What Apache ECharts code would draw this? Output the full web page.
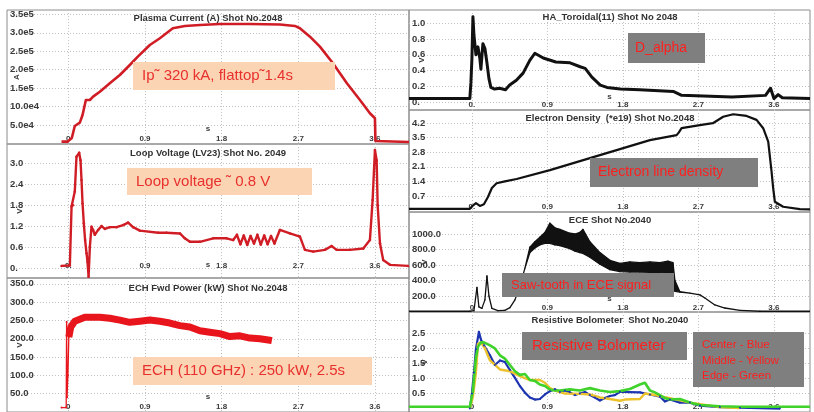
<!DOCTYPE html>
<html><head><meta charset="utf-8">
<script src="https://cdn.jsdelivr.net/npm/echarts@6/dist/echarts.min.js"></script>
<style>html,body{margin:0;padding:0;background:#fff}#c{width:814px;height:412px}</style>
</head><body><div id="c"></div>
<script>
// ---------------- data ----------------
const xTicks = [0, 0.9, 1.8, 2.7, 3.6];
const xTickLabels = ['0', '0.9', '1.8', '2.7', '3.6'];
const xTickLabelsDot = ['0.', '0.9', '1.8', '2.7', '3.6'];

// Plasma current (A)
const ipTicks = [50000, 100000, 150000, 200000, 250000, 300000, 350000];
const ipTickLabels = ['5.0e4', '10.0e4', '1.5e5', '2.0e5', '2.5e5', '3.0e5', '3.5e5'];
const ipT = [-0.08, -0.01, 0.041, 0.076, 0.135, 0.167, 0.206, 0.253, 0.291, 0.37, 0.487, 0.605, 0.722, 0.816, 0.957, 1.075, 1.227, 1.368, 1.545, 1.779, 2.131, 2.484, 2.66, 2.719, 2.837, 2.954, 3.107, 3.271, 3.424, 3.541, 3.6, 3.606, 4.0];
const ipA = [5000, 5000, 14900, 47500, 56400, 77300, 118000, 118000, 127000, 140500, 163300, 185800, 212900, 235500, 267200, 285400, 312500, 318800, 321500, 324200, 324200, 322800, 318800, 312500, 289700, 262600, 217600, 163300, 118000, 81900, 68400, 6800, 4000];

// Loop voltage (V)
const lvTicks = [0, 0.6, 1.2, 1.8, 2.4, 3.0];
const lvTickLabels = ['0.', '0.6', '1.2', '1.8', '2.4', '3.0'];
const lvT = [-0.08, 0.018, 0.038, 0.056, 0.076, 0.096, 0.127, 0.143, 0.155, 0.167, 0.182, 0.197, 0.214, 0.225, 0.238, 0.253, 0.272, 0.291, 0.311, 0.35, 0.39, 0.429, 0.487, 0.566, 0.644, 0.702, 0.761, 0.84, 1.055, 1.153, 1.31, 1.368, 1.427, 1.545, 1.701, 1.858, 1.936, 1.98, 2.02, 2.06, 2.10, 2.14, 2.18, 2.22, 2.26, 2.30, 2.34, 2.38, 2.42, 2.484, 2.602, 2.719, 2.778, 2.875, 3.013, 3.091, 3.15, 3.306, 3.463, 3.541, 3.573, 3.6, 3.62, 3.632, 3.659, 3.697, 3.776, 3.99];
const lvV = [0.06, 0.07, 1.76, 1.8, 2.19, 3.19, 3.3, 3.09, 2.52, 1.85, 1.28, 0.8, 0.42, 0.18, -0.25, 0.61, 1.18, 1.09, 0.95, 1.09, 1.2, 1.12, 1.17, 1.17, 1.23, 1.3, 1.17, 1.07, 1.01, 1.01, 0.99, 0.85, 0.75, 0.75, 0.85, 0.85, 0.8, 0.95, 0.68, 0.93, 0.66, 0.92, 0.7, 0.95, 0.67, 0.93, 0.68, 0.92, 0.7, 1.09, 0.99, 0.9, 0.52, 0.47, 0.52, 0.63, 0.52, 0.52, 0.56, 0.8, 1.95, 3.38, 3.09, 1.8, 0.71, 0.23, 0.09, 0.06];

// ECH forward power (kW)
const echTicks = [50, 100, 150, 200, 250, 300, 350];
const echTickLabels = ['50.0', '100.0', '150.0', '200.0', '250.0', '300.0', '350.0'];
const echSpikeT = [-0.08, -0.025, -0.02, -0.015, -0.005, 0.006];
const echSpikeV = [12, 12, 246, 40, 100, 205];
const echT = [0.006, 0.029, 0.076, 0.194, 0.37, 0.487, 0.605, 0.722, 0.84, 0.957, 1.075, 1.192, 1.31, 1.427, 1.545, 1.662, 1.78, 1.897, 2.015, 2.132, 2.249, 2.367, 2.39];
const echV = [205, 232, 248, 259, 259, 256, 251, 245, 248, 251, 248, 243, 236, 232, 222, 218, 214, 206, 208, 202, 200, 196, 195];

// D_alpha
const daTicks = [0, 0.2, 0.4, 0.6, 0.8, 1.0];
const daTickLabels = ['0.', '0.2', '0.4', '0.6', '0.8', '1.0'];
const daT = [-0.75, -0.025, -0.012, 0.0, 0.012, 0.024, 0.048, 0.072, 0.095, 0.107, 0.131, 0.155, 0.179, 0.203, 0.226, 0.27, 0.33, 0.40, 0.45, 0.53, 0.61, 0.69, 0.75, 0.85, 1.0, 1.17, 1.29, 1.35, 1.43, 1.53, 1.61, 1.77, 2.0, 2.4, 2.5, 3.1, 3.5, 3.56, 3.6, 3.65, 3.7, 4.03];
const daV = [0.05, 0.05, 0.25, 0.55, 1.08, 0.85, 0.6, 0.7, 0.55, 0.42, 0.74, 0.68, 0.5, 0.3, 0.19, 0.17, 0.18, 0.16, 0.22, 0.28, 0.37, 0.53, 0.62, 0.56, 0.51, 0.5, 0.45, 0.43, 0.32, 0.22, 0.19, 0.17, 0.16, 0.14, 0.09, 0.07, 0.09, 0.18, 0.05, 0.1, 0.06, 0.05];

// Electron density (*e19)
const edTicks = [0.7, 1.4, 2.1, 2.8, 3.5, 4.2];
const edTickLabels = ['0.7', '1.4', '2.1', '2.8', '3.5', '4.2'];
const edT = [-0.75, -0.024, 0, 0.048, 0.095, 0.143, 0.191, 0.238, 0.294, 0.393, 0.533, 0.93, 1.327, 1.725, 2.122, 2.44, 2.467, 2.499, 2.718, 2.872, 2.995, 3.115, 3.274, 3.393, 3.472, 3.532, 3.572, 3.591, 3.611, 3.71, 3.909, 4.03];
const edV = [0.08, 0.08, 0.2, 0.35, 0.22, 0.3, 0.65, 1.08, 1.31, 1.4, 1.51, 1.94, 2.42, 2.9, 3.38, 3.62, 3.75, 3.95, 4.1, 4.19, 4.5, 4.62, 4.54, 4.35, 3.95, 3.31, 1.86, 1.07, 0.42, 0.18, 0.07, 0.05];

// ECE (lower / upper envelope of the saw-tooth band)
const eceTicks = [200, 400, 600, 800, 1000];
const eceTickLabels = ['200.0', '400.0', '600.0', '800.0', '1000.0'];
const eceT = [-0.751, -0.024, 0.024, 0.06, 0.083, 0.119, 0.155, 0.179, 0.203, 0.238, 0.31, 0.393, 0.453, 0.513, 0.572, 0.632, 0.691, 0.751, 0.81, 0.87, 0.93, 0.989, 1.049, 1.168, 1.228, 1.287, 1.323, 1.406, 1.526, 1.645, 1.764, 1.883, 2.002, 2.122, 2.241, 2.336, 2.396, 2.42, 2.479, 2.598, 2.718, 2.777, 2.896, 3.015, 3.194, 3.433, 4.029];
const eceLo = [3, 3, 10, 310, 60, 40, 150, 460, 200, 40, 10, 15, 50, 150, 330, 560, 760, 820, 860, 880, 880, 860, 850, 810, 780, 760, 750, 700, 610, 540, 515, 510, 510, 505, 500, 495, 490, 260, 250, 238, 215, 175, 85, 45, 15, 3, 3];
const eceHi = [3, 3, 10, 310, 60, 40, 150, 460, 200, 40, 10, 15, 50, 150, 330, 560, 830, 900, 960, 1020, 1140, 1080, 1060, 1010, 1000, 1020, 1060, 900, 760, 660, 620, 640, 630, 640, 630, 650, 630, 400, 255, 238, 215, 175, 85, 45, 15, 3, 3];

// Resistive bolometer
const boTicks = [0.5, 1.0, 1.5, 2.0, 2.5];
const boTickLabels = ['0.5', '1.0', '1.5', '2.0', '2.5'];
const boBlueT = [-0.024, 0, 0.024, 0.048, 0.083, 0.107, 0.143, 0.215, 0.274, 0.334, 0.393, 0.453, 0.513, 0.572, 0.632, 0.691, 0.751, 0.81, 0.87, 0.93, 0.989, 1.049, 1.108, 1.168, 1.228, 1.287, 1.347, 1.406, 1.466, 1.526, 1.585, 1.645, 1.704, 1.764, 1.883, 2.002, 2.122, 2.241, 2.3, 2.36, 2.479, 2.598, 2.718, 2.956, 3.194, 3.671];
const boBlueV = [0, 0.5, 1.2, 1.98, 2.55, 2.3, 2.1, 1.77, 1.45, 1.6, 1.55, 1.28, 1.02, 0.75, 0.53, 0.37, 0.3, 0.32, 0.47, 0.58, 0.64, 0.55, 0.6, 0.54, 0.45, 0.5, 0.55, 0.45, 0.37, 0.27, 0.35, 0.42, 0.45, 0.56, 0.55, 0.54, 0.47, 0.4, 0.24, 0.3, 0.2, 0.2, 0.1, 0.05, 0.03, 0.0];
const boYellowT = [-0.024, 0.012, 0.048, 0.072, 0.107, 0.155, 0.215, 0.274, 0.334, 0.453, 0.572, 0.691, 0.81, 0.87, 0.93, 0.989, 1.108, 1.287, 1.406, 1.526, 1.645, 1.764, 1.824, 2.002, 2.062, 2.181, 2.36, 2.598, 2.718, 2.956, 3.194];
const boYellowV = [0, 0.4, 1.2, 2.15, 2.2, 2.0, 1.6, 1.45, 1.3, 1.24, 1.08, 0.95, 0.95, 0.86, 0.68, 0.6, 0.5, 0.49, 0.47, 0.37, 0.32, 0.26, 0.3, 0.32, 0.5, 0.45, 0.35, 0.2, 0.15, 0.05, 0.02];
const boGreenT = [-0.751, -0.024, 0.012, 0.048, 0.072, 0.107, 0.143, 0.215, 0.274, 0.334, 0.393, 0.453, 0.513, 0.572, 0.632, 0.691, 0.751, 0.81, 0.87, 0.93, 0.989, 1.049, 1.168, 1.287, 1.406, 1.526, 1.645, 1.764, 1.883, 2.002, 2.062, 2.122, 2.181, 2.241, 2.3, 2.36, 2.479, 2.598, 2.718, 2.956, 3.194, 3.433, 4.029];
const boGreenV = [0.06, 0.06, 0.6, 1.7, 2.05, 2.2, 2.2, 2.1, 2.0, 1.77, 1.66, 1.45, 1.24, 1.12, 1.15, 0.95, 0.92, 0.8, 0.75, 0.63, 0.6, 0.6, 0.64, 0.6, 0.68, 0.6, 0.55, 0.58, 0.65, 0.8, 0.86, 0.6, 0.54, 0.45, 0.35, 0.3, 0.32, 0.2, 0.12, 0.08, 0.06, 0.06, 0.06];

// ---------------- chart ----------------
const FONT = '"Liberation Sans", Arial, sans-serif';
function zip(a, b) { const n = Math.min(a.length, b.length), r = []; for (let i = 0; i < n; i++) r.push([a[i], b[i]]); return r; }
function lab(ticks, labels) {
  return function (v) { let k = 0, d = Infinity; ticks.forEach((t, i) => { const e = Math.abs(t - v); if (e < d) { d = e; k = i; } }); return labels[k]; };
}
const LX = [-0.72, 4.0], RX = [-0.75, 4.03];
const panels = [
  { g: [7, 10, 402, 134], x: LX, y: [-1400, 362000], yt: ipTicks, yl: ipTickLabels, xl: xTickLabels, lm: 5, yn: 'A', yg: -10, xn: 's', sg: -15, title: 'Plasma Current (A) Shot No.2048', tx: 208, ty: 18 },
  { g: [7, 144, 402, 134], x: LX, y: [-0.287, 3.553], yt: lvTicks, yl: lvTickLabels, xl: xTickLabelsDot, lm: 12, yn: 'V', yg: -13, xn: 's', sg: -13, title: 'Loop Voltage (LV23) Shot No. 2049', tx: 208, ty: 153 },
  { g: [7, 278, 402, 137], x: LX, y: [0, 366], yt: echTicks, yl: echTickLabels, xl: xTickLabels, lm: 5, yn: 'V', yg: -13, xn: 's', sg: -15, title: 'ECH Fwd Power (kW) Shot No.2048', tx: 208, ty: 288 },
  { g: [409, 10, 401, 100], x: RX, y: [-0.094, 1.164], yt: daTicks, yl: daTickLabels, xl: xTickLabelsDot, lm: 5, yn: 'V', yg: -13, xn: 's', sg: -13, title: 'HA_Toroidal(11) Shot No 2048', tx: 610, ty: 17 },
  { g: [409, 110, 401, 102], x: RX, y: [-0.072, 4.824], yt: edTicks, yl: edTickLabels, xl: xTickLabelsDot, lm: 5, yn: '', yg: -13, xn: '', sg: -13, title: 'Electron Density  (*e19) Shot No.2048', tx: 610, ty: 118 },
  { g: [409, 212, 401, 100], x: RX, y: [-6.5, 1284], yt: eceTicks, yl: eceTickLabels, xl: xTickLabels, lm: 4, yn: 'V', yg: -16, xn: 's', sg: -13, title: 'ECE Shot No.2040', tx: 610, ty: 220 },
  { g: [409, 312, 401, 103], x: RX, y: [-0.113, 3.21], yt: boTicks, yl: boTickLabels, xl: xTickLabels, lm: 5, yn: 'V', yg: -16, xn: '', sg: -13, title: 'Resistive Bolometer  Shot No.2040', tx: 610, ty: 320 }
];
const gridLine = { show: true, lineStyle: { color: '#c2c2c2', width: 1, type: [1, 2] } };
const xText = { fontSize: 8, fontWeight: 'bold', color: '#3a3a3a', fontFamily: FONT };
const yText = { fontSize: 9.5, fontWeight: 'bold', color: '#3a3a3a', fontFamily: FONT };

const grids = panels.map(p => ({ left: p.g[0], top: p.g[1], width: p.g[2], height: p.g[3], show: true, borderColor: '#8c8c8c', borderWidth: 1, backgroundColor: 'transparent', containLabel: false }));
const xAxes = panels.map((p, i) => ({
  gridIndex: i, type: 'value', min: p.x[0], max: p.x[1],
  axisLine: { show: false, onZero: false }, axisTick: { show: false, customValues: xTicks },
  axisLabel: Object.assign({ inside: true, customValues: xTicks, formatter: lab(xTicks, p.xl), verticalAlign: 'middle', margin: p.lm }, xText),
  splitLine: gridLine,
  name: p.xn, nameLocation: 'middle', nameGap: p.sg, nameMoveOverlap: false,
  nameTextStyle: Object.assign({ verticalAlign: 'middle', align: 'center' }, xText)
}));
const yAxes = panels.map((p, i) => ({
  gridIndex: i, type: 'value', min: p.y[0], max: p.y[1],
  axisLine: { show: false, onZero: false }, axisTick: { show: false, customValues: p.yt },
  axisLabel: Object.assign({ inside: true, customValues: p.yt, formatter: lab(p.yt, p.yl), align: 'left', verticalAlign: 'middle', margin: 3 }, yText),
  splitLine: gridLine,
  name: p.yn, nameLocation: 'middle', nameRotate: 90, nameGap: p.yg, nameMoveOverlap: false,
  nameTextStyle: Object.assign({ verticalAlign: 'middle', align: 'center' }, xText)
}));

function line(i, data, color, width, extra) {
  return Object.assign({ type: 'line', xAxisIndex: i, yAxisIndex: i, data: data, showSymbol: false, symbol: 'none', lineStyle: { color: color, width: width, join: 'round' }, itemStyle: { color: color }, z: 3 }, extra || {});
}
// ECE band: one quad per pair of neighbouring samples, lower and upper envelope
const eceSegs = [];
for (let k = 0; k + 1 < eceT.length; k++) eceSegs.push([eceT[k], eceLo[k], eceHi[k], eceT[k + 1], eceLo[k + 1], eceHi[k + 1]]);

const RED = '#d01d25';
const series = [
  line(0, zip(ipT, ipA), RED, 2.6),
  line(1, zip(lvT, lvV), RED, 2.4, { showSymbol: true, symbol: 'circle', symbolSize: 2.5 }),
  line(2, zip(echSpikeT, echSpikeV), '#e8161c', 1.3, { showSymbol: true, symbol: 'circle', symbolSize: 2 }),
  line(2, zip(echT, echV), '#e8161c', 7),
  line(3, zip(daT, daV), '#111', 3),
  line(4, zip(edT, edV), '#111', 2.2),
  {
    type: 'custom', xAxisIndex: 5, yAxisIndex: 5, data: eceSegs, clip: true, z: 3,
    encode: { x: [0, 3], y: [1, 2, 4, 5] },
    renderItem: function (params, api) {
      const a = api.coord([api.value(0), api.value(1)]);
      const b = api.coord([api.value(3), api.value(4)]);
      const c = api.coord([api.value(3), api.value(5)]);
      const d = api.coord([api.value(0), api.value(2)]);
      return { type: 'polygon', shape: { points: [a, b, c, d] }, style: { fill: '#111', stroke: '#111', lineWidth: 1.3, lineJoin: 'round' } };
    }
  },
  line(6, zip(boBlueT, boBlueV), '#1d35b0', 2.2, { showSymbol: true, symbol: 'circle', symbolSize: 2 }),
  line(6, zip(boYellowT, boYellowV), '#ecc22c', 2.4),
  line(6, zip(boGreenT, boGreenV), '#3fd22a', 2.6)
];

function box(x, y, w, h, fill) { return { type: 'rect', shape: { x: x, y: y, width: w, height: h }, style: { fill: fill }, z: 100 }; }
function txt(x, y, s, size, color, align, weight) { return { type: 'text', x: x, y: y, z: 101, style: { text: s, fill: color, font: (weight || 'normal') + ' ' + size + 'px ' + FONT, align: align || 'left', verticalAlign: 'middle' } }; }
const PEACH = '#fbd4b4', GRAY = '#7f7f7f', ARED = '#e8302c', GRED = '#ff1f1f';
const graphics = [];
panels.forEach(p => graphics.push(txt(p.tx, p.ty, p.title, 9.5, '#333', 'center', 'bold')));
graphics.push(box(133, 62, 202, 28, PEACH), txt(142, 76, 'Ip˜ 320 kA, flattop˜1.4s', 15, ARED));
graphics.push(box(127, 168, 185, 27, PEACH), txt(136, 182, 'Loop voltage ˜ 0.8 V', 15, ARED));
graphics.push(box(133, 357, 239, 28, PEACH), txt(142, 371, 'ECH (110 GHz) : 250 kW, 2.5s', 15, ARED));
graphics.push(box(628, 33, 77, 30, GRAY), txt(635, 48, 'D_alpha', 14, GRED));
graphics.push(box(590, 158, 168, 29, GRAY), txt(598, 172, 'Electron line density', 14, GRED));
graphics.push(box(502, 273, 172, 24, GRAY), txt(511, 285, 'Saw-tooth in ECE signal', 13, GRED));
graphics.push(box(522, 332, 165, 28, GRAY), txt(532, 346, 'Resistive Bolometer', 15, GRED));
graphics.push(box(693, 332, 111, 55, GRAY), txt(702, 345, 'Center - Blue', 11.5, GRED), txt(702, 361, 'Middle - Yellow', 11.5, GRED), txt(702, 376, 'Edge - Green', 11.5, GRED));

const chart = echarts.init(document.getElementById('c'), null, { renderer: 'canvas', width: 814, height: 412 });
chart.setOption({
  animation: false,
  backgroundColor: '#ffffff',
  grid: grids, xAxis: xAxes, yAxis: yAxes, series: series,
  graphic: graphics
});
</script></body></html>
